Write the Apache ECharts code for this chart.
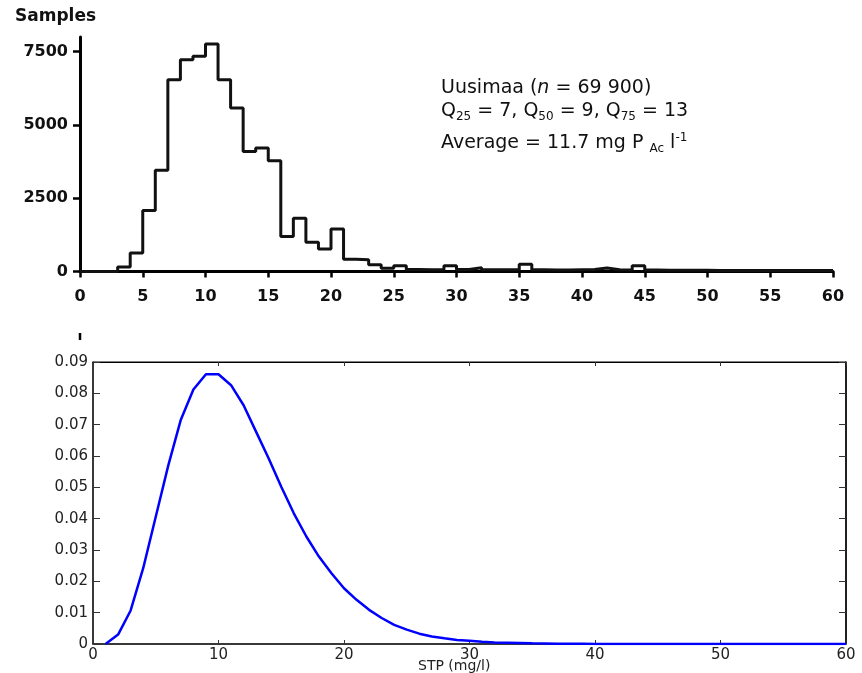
<!DOCTYPE html>
<html><head><meta charset="utf-8">
<script src="https://cdn.jsdelivr.net/npm/echarts@6/dist/echarts.min.js"></script>
<style>html,body{margin:0;padding:0;background:#fff}#c{width:862px;height:673px}</style>
</head><body><div id="c"></div>
<script>
// ---- Top panel: histogram of samples (bin width 1 mg/l) ----
const histBinStart = [0,1,2,3,4,5,6,7,8,9,10,11,12,13,14,15,16,17,18,19,20,21,22,23,24,25,26,27,28,29,30,31,32,33,34,35,36,37,38,39,40,41,42,43,44,45,46,47,48,49,50,51,52,53,54,55,56,57,58,59];
const histCounts = [0,0,0,150,630,2080,3450,6540,7225,7340,7760,6540,5575,4095,4210,3780,1195,1820,1000,765,1447,420,400,230,110,200,70,60,60,200,70,130,60,60,60,250,60,50,50,60,70,120,60,50,200,50,40,40,40,40,30,30,30,30,30,30,30,30,30,30];
const histXTicks = [0,5,10,15,20,25,30,35,40,45,50,55,60];
const histYTicks = [0,2500,5000,7500];

// ---- Bottom panel: fitted density ----
const pdfX = [1,2,3,4,5,6,7,8,9,10,11,12,13,14,15,16,17,18,19,20,21,22,23,24,25,26,27,28,29,30,31,32,33,34,35,36,37,38,39,40,41,42,43,44,45,46,47,48,49,50,51,52,53,54,55,56,57,58,59,60];
const pdfY = [0,0.0030,0.0107,0.0242,0.0406,0.0570,0.0716,0.0812,0.0861,0.0861,0.0826,0.0762,0.0677,0.0592,0.0502,0.0417,0.0343,0.0279,0.0226,0.0178,0.0141,0.0109,0.0083,0.0061,0.0046,0.0033,0.0024,0.0018,0.0013,0.0010,0.0007,0.0005,0.0004,0.0003,0.0002,0.00015,0.0001,0.00007,0.00005,0.00003,0,0,0,0,0,0,0,0,0,0,0,0,0,0,0,0,0,0,0,0];
const pdfXTicks = [0,10,20,30,40,50,60];
const pdfYTicks = [0,0.01,0.02,0.03,0.04,0.05,0.06,0.07,0.08,0.09];

const histData = histBinStart.map((x, i) => [x, histCounts[i]]);
histData.push([60, histCounts[histCounts.length - 1]]);
const pdfData = pdfX.map((x, i) => [x, pdfY[i]]);

const boldLbl = {fontFamily: 'DejaVu Sans', fontWeight: 'bold', fontSize: 16, color: '#111'};
const thinLbl = {fontFamily: 'DejaVu Sans', fontSize: 15, color: '#222'};

const chart = echarts.init(document.getElementById('c'), null, {renderer: 'canvas'});
chart.setOption({
  animation: false,
  backgroundColor: '#fff',
  grid: [
    {left: 80, right: 29, top: 37, bottom: 401.5, outerBoundsMode: 'none', containLabel: false},
    {left: 93, right: 16, top: 362, bottom: 29, show: true, borderColor: '#000', borderWidth: 1, outerBoundsMode: 'none', containLabel: false}
  ],
  xAxis: [
    {gridIndex: 0, type: 'value', min: 0, max: 60, interval: 5,
      axisLine: {show: true, onZero: false, lineStyle: {color: '#000', width: 3}},
      axisTick: {show: true, inside: false, length: 6, customValues: histXTicks, lineStyle: {color: '#000', width: 2.5}},
      axisLabel: Object.assign({margin: 17, customValues: histXTicks, formatter: v => String(v)}, boldLbl),
      splitLine: {show: false}},
    {gridIndex: 1, type: 'value', min: 0, max: 60, interval: 10,
      axisLine: {show: true, onZero: false, lineStyle: {color: '#222', width: 1.5}},
      axisTick: {show: true, inside: true, length: 4, customValues: pdfXTicks, lineStyle: {color: '#333', width: 1}},
      axisLabel: Object.assign({margin: 4, customValues: pdfXTicks}, thinLbl),
      splitLine: {show: false}},
    {gridIndex: 1, type: 'value', position: 'top', min: 0, max: 60, interval: 10,
      axisLine: {show: true, onZero: false, lineStyle: {color: '#000', width: 1}},
      axisTick: {show: true, inside: true, length: 4, customValues: pdfXTicks, lineStyle: {color: '#333', width: 1}},
      axisLabel: {show: false}, splitLine: {show: false}}
  ],
  yAxis: [
    {gridIndex: 0, type: 'value', min: 0, max: 8000,
      axisLine: {show: true, onZero: false, lineStyle: {color: '#000', width: 3}},
      axisTick: {show: true, inside: false, length: 7, customValues: histYTicks, lineStyle: {color: '#000', width: 2.5}},
      axisLabel: Object.assign({margin: 12, customValues: histYTicks, formatter: v => String(v)}, boldLbl),
      splitLine: {show: false}},
    {gridIndex: 1, type: 'value', min: 0, max: 0.09, interval: 0.01,
      axisLine: {show: true, onZero: false, lineStyle: {color: '#222', width: 1.5}},
      axisTick: {show: true, inside: true, length: 7, customValues: pdfYTicks, lineStyle: {color: '#333', width: 1}},
      axisLabel: Object.assign({margin: 5, customValues: pdfYTicks, formatter: v => v === 0 ? '0' : v.toFixed(2)}, thinLbl),
      splitLine: {show: false}},
    {gridIndex: 1, type: 'value', position: 'right', min: 0, max: 0.09, interval: 0.01,
      axisLine: {show: true, onZero: false, lineStyle: {color: '#000', width: 1.5}},
      axisTick: {show: true, inside: true, length: 7, customValues: pdfYTicks, lineStyle: {color: '#333', width: 1}},
      axisLabel: {show: false}, splitLine: {show: false}}
  ],
  series: [
    {type: 'line', xAxisIndex: 0, yAxisIndex: 0, step: 'end', data: histData, symbol: 'none',
      lineStyle: {color: '#111', width: 3}, z: 3},
    {type: 'line', xAxisIndex: 1, yAxisIndex: 1, data: pdfData, symbol: 'none', smooth: false,
      lineStyle: {color: '#0000ff', width: 2.5}, z: 3}
  ],
  graphic: [
    {type: 'text', left: 15, top: 8, style: {text: 'Samples', fontFamily: 'DejaVu Sans', fontWeight: 'bold', fontSize: 17, fill: '#111'}},
    {type: 'text', left: 441, top: 79, style: {
      text: '{a|Uusimaa (}{i|n}{a| = 69 900)}',
      rich: {a: {fontFamily: 'DejaVu Sans', fontSize: 19, fill: '#111'}, i: {fontFamily: 'DejaVu Sans', fontStyle: 'italic', fontSize: 19, fill: '#111'}}}},
    {type: 'text', left: 441, top: 102, style: {
      text: '{a|Q}{s|25}{a| = 7, Q}{s|50}{a| = 9, Q}{s|75}{a| = 13}',
      rich: {a: {fontFamily: 'DejaVu Sans', fontSize: 19, fill: '#111'}, s: {fontFamily: 'DejaVu Sans', fontSize: 12, fill: '#111', padding: [11, 0, 0, 0]}}}},
    {type: 'text', left: 441, top: 132, style: {
      text: '{a|Average = 11.7 mg P }{s|Ac}{a| l}{u|-1}',
      rich: {a: {fontFamily: 'DejaVu Sans', fontSize: 19, fill: '#111'}, s: {fontFamily: 'DejaVu Sans', fontSize: 12, fill: '#111', padding: [11, 0, 0, 0]}, u: {fontFamily: 'DejaVu Sans', fontSize: 12, fill: '#111', padding: [0, 0, 10, 0]}}}},
    {type: 'text', left: 418, top: 659, style: {text: 'STP (mg/l)', fontFamily: 'DejaVu Sans', fontSize: 14, fill: '#222'}},
    {type: 'line', shape: {x1: 80, y1: 333, x2: 80, y2: 340}, style: {stroke: '#000', lineWidth: 2.5}}
  ]
});
</script>
</body></html>
